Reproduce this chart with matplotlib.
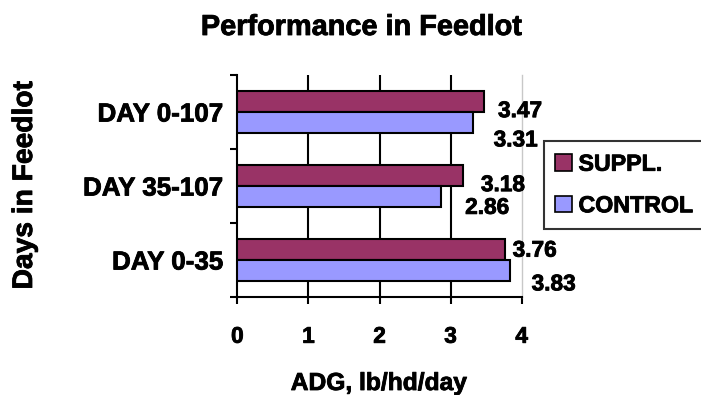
import numpy as np
import matplotlib.pyplot as plt
import matplotlib.patheffects as pe
from matplotlib.patches import Patch

plt.rcParams['font.family'] = ['Liberation Sans', 'DejaVu Sans']
plt.rcParams['font.weight'] = 'bold'

# data (top to bottom as drawn)
categories = ['DAY 0-107', 'DAY 35-107', 'DAY 0-35']
suppl = [3.47, 3.18, 3.76]
control = [3.31, 2.86, 3.83]
series_names = ['SUPPL.', 'CONTROL']
xticks = [0, 1, 2, 3, 4]

# label offsets in pixels (right, down) from bar end / bar centre
suppl_off = [(14, 9), (17.5, 9), (8, 0.5)]
control_off = [(21, 17.5), (24.5, 11), (22, 13.5)]

c_suppl = '#993366'
c_control = '#9999FF'
thick = [pe.withStroke(linewidth=0.6, foreground='black')]

fig = plt.figure(figsize=(7.01, 3.95), dpi=100)
ax = fig.add_axes([237.3 / 701, 1 - 297 / 395, (521.7 - 237.3) / 701, (297 - 75) / 395])

n = len(categories)
y = np.arange(n)[::-1]  # first category on top
h = 0.28
ax.barh(y + h / 2, suppl, height=h, color=c_suppl, edgecolor='black', linewidth=1.5, zorder=3)
ax.barh(y - h / 2, control, height=h, color=c_control, edgecolor='black', linewidth=1.5, zorder=3)

px = 0.72  # points per pixel
for i in range(n):
    ax.annotate(f'{suppl[i]:.2f}', (suppl[i], y[i] + h / 2),
                xytext=(suppl_off[i][0] * px, -suppl_off[i][1] * px), textcoords='offset points',
                ha='left', va='center', fontsize=16.3, fontweight='bold', annotation_clip=False,
                path_effects=thick)
    ax.annotate(f'{control[i]:.2f}', (control[i], y[i] - h / 2),
                xytext=(control_off[i][0] * px, -control_off[i][1] * px), textcoords='offset points',
                ha='left', va='center', fontsize=16.3, fontweight='bold', annotation_clip=False,
                path_effects=thick)

ax.set_xlim(0, 4)
ax.set_ylim(-0.5, n - 0.5)

# gridlines at 1,2,3 black; 4 light gray
for xv in xticks[1:-1]:
    ax.axvline(xv, color='black', lw=1.5, zorder=1)
ax.spines['top'].set_visible(False)
ax.spines['right'].set_color('#c8c8c8')
ax.spines['right'].set_linewidth(1.0)
ax.spines['left'].set_linewidth(1.5)
ax.spines['bottom'].set_linewidth(1.5)

ax.set_xticks(xticks)
ax.set_xticklabels([str(t) for t in xticks], fontsize=16.3, fontweight='bold')
ax.tick_params(axis='x', direction='out', length=5, width=1.5, pad=15)

ax.set_yticks(y)
ax.set_yticklabels(categories, fontsize=18.7, fontweight='bold')
ax.tick_params(axis='y', which='major', length=0, pad=10)
ax.set_yticks(np.arange(-0.5, n, 1.0), minor=True)
ax.tick_params(axis='y', which='minor', direction='out', length=5, width=1.5)
for t in ax.get_xticklabels() + ax.get_yticklabels():
    t.set_path_effects(thick)

fig.text(361 / 701, 1 - 27 / 395, 'Performance in Feedlot', ha='center', va='center',
         fontsize=20.8, fontweight='bold', path_effects=thick)
fig.text(25 / 701, 1 - 185 / 395, 'Days in Feedlot', ha='center', va='center',
         rotation=90, fontsize=20.3, fontweight='bold', path_effects=thick)
fig.text(379 / 701, 1 - 383 / 395, 'ADG, lb/hd/day', ha='center', va='center',
         fontsize=17.7, fontweight='bold', path_effects=thick)

handles = [Patch(facecolor=c_suppl, edgecolor='black', linewidth=1.2),
           Patch(facecolor=c_control, edgecolor='black', linewidth=1.2)]
leg = fig.legend(handles, series_names, loc='center', bbox_to_anchor=(624 / 701, 1 - 185 / 395),
                 frameon=True, fancybox=False, edgecolor='black',
                 handlelength=0.7, handleheight=0.7, handletextpad=0.3, labelspacing=0.8,
                 borderpad=0.5, prop={'weight': 'bold', 'size': 16.7})
leg.get_frame().set_linewidth(1.5)
for t in leg.get_texts():
    t.set_path_effects(thick)

fig.savefig('out.png', dpi=100)
